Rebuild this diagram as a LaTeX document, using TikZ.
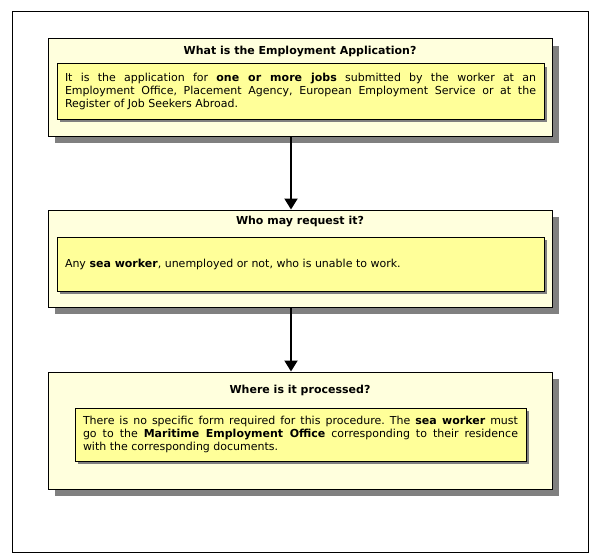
\documentclass[tikz,border=0pt]{standalone}
\usepackage{fontspec}
\setmainfont{DejaVu Sans}
\usetikzlibrary{shadows,arrows.meta}
\definecolor{paneyellow}{RGB}{255,255,221}
\definecolor{noteyellow}{RGB}{255,255,153}

\begin{document}
\frenchspacing
\begin{tikzpicture}[x=1pt,y=-1pt,
   panel/.style={draw=black,line width=1pt,fill=paneyellow,minimum width=504pt,
    drop shadow={shadow xshift=7pt,shadow yshift=-7pt,fill=gray,opacity=1}},
   note/.style={draw=black,line width=1pt,fill=noteyellow,inner xsep=8pt,
    align=justify,font=\fontsize{11pt}{13pt}\selectfont,
    drop shadow={shadow xshift=3pt,shadow yshift=-3pt,fill=gray,opacity=1}},
   heading/.style={font=\fontsize{11pt}{13pt}\selectfont\bfseries},
   link/.style={line width=2pt,-{Triangle[width=13pt,length=11pt]}}]
   \useasboundingbox (0,0) rectangle (593,559);
   \draw[line width=1pt,fill=white] (12,12) rectangle (588,552);
   % first panel
   \node[panel,minimum height=97pt] (what) at (300,87.5) {};
   \node[heading] (whattitle) at (300,52) {What is the Employment Application?};
   \node[note,text width=471pt,minimum height=55pt] (whatnote) at (300.5,91.5)
    {It is the application for \textbf{one or more jobs} submitted by the worker at an\linebreak
     Employment Office, Placement Agency, European Employment Service or at the\linebreak
     Register of Job Seekers Abroad.};
   % second panel
   \node[panel,minimum height=97pt] (who) at (300,258.5) {};
   \node[heading] (whotitle) at (300,222) {Who may request it?};
   \node[note,text width=471pt,minimum height=54pt] (whonote) at (300.5,264)
    {Any \textbf{sea worker}, unemployed or not, who is unable to work.};
   % third panel
   \node[panel,minimum height=117pt] (where) at (300,430.5) {};
   \node[heading] (wheretitle) at (300,390) {Where is it processed?};
   \node[note,text width=435pt,minimum height=53pt] (wherenote) at (300.5,434.5)
    {There is no specific form required for this procedure. The \textbf{sea worker} must\linebreak
     go to the \textbf{Maritime Employment Office} corresponding to their residence\linebreak
     with the corresponding documents.};
   \draw[link] ([xshift=-9pt]what.south) -- ([xshift=-9pt]who.north);
   \draw[link] ([xshift=-9pt]who.south) -- ([xshift=-9pt]where.north);
  \end{tikzpicture}
\end{document}
